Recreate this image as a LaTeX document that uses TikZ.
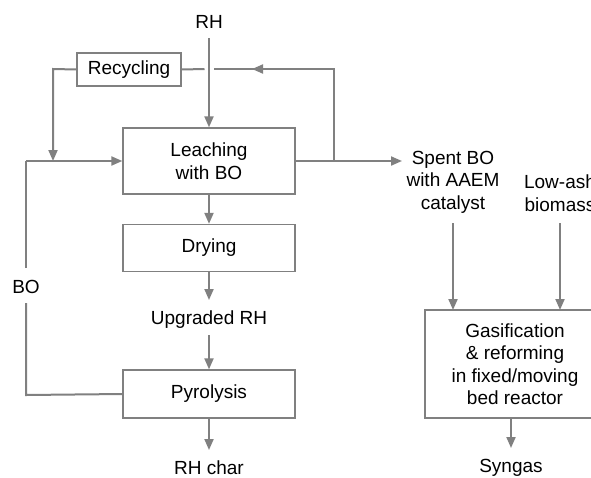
\documentclass[tikz,border=0pt]{standalone}
\usepackage{fontspec}
\setmainfont{Liberation Sans}
\usetikzlibrary{arrows.meta}
\definecolor{lc}{RGB}{128,128,128}
\begin{document}
\begin{tikzpicture}[x=1pt,y=-1pt,
  every node/.style={font=\fontsize{19}{22.5}\selectfont, text=black, align=center, inner sep=0pt},
  boxst/.style={draw=lc, line width=1.3pt, minimum width=#1},
  flow/.style={draw=lc, line width=2pt},
  arr/.style={flow, -{Triangle[length=11pt,width=9pt]}}]
\useasboundingbox (0,0) rectangle (591,477);
\clip (0,0) rectangle (591,477);
% nodes
\node (rh) at (209,22) {RH};
\node[boxst=104, minimum height=33] (rec) at (129,69.5) {Recycling};
\node[boxst=172, minimum height=66] (leach) at (209,161) {Leaching\\with BO};
\node[boxst=172, minimum height=47] (dry) at (209,248) {Drying};
\node (up) at (209,320) {Upgraded RH};
\node[boxst=172, minimum height=48] (pyr) at (209,394) {Pyrolysis};
\node (char) at (209,468) {RH char};
\node (bo) at (26,287) {BO};
\node (spent) at (453,182) {Spent BO\\with AAEM\\catalyst};
\node (low) at (560,193) {Low-ash\\biomass};
\node[boxst=180, minimum height=108] (gas) at (515,364) {Gasification\\\& reforming\\in fixed/moving\\bed reactor};
\node (syn) at (511,468) {Syngas};
% coordinates
\coordinate (rhs) at (209,38);
\coordinate (rb) at (334,161);
\coordinate (rt) at (334,69);
\coordinate (am) at (252,69);
\coordinate (jr) at (213.5,69);
\coordinate (jl) at (204.5,69);
\coordinate (ll) at (53,69);
\coordinate (lb) at (53,161);
\coordinate (bl) at (26,161);
\coordinate (bt) at (26,268);
\coordinate (bb) at (26,303);
\coordinate (bp) at (26,395);
\coordinate (sp) at (402,161);
\coordinate (s1) at (453,223);
\coordinate (s2) at (560,223);
% connectors
\draw[arr] (rhs) -- (leach.north);
\draw[arr] (leach.south) -- (dry.north);
\draw[arr] (dry.south) -- (209,300);
\draw[arr] (209,335) -- (pyr.north);
\draw[arr] (pyr.south) -- (209,450);
\draw[arr] (leach.east) -- (sp);
\draw[flow] (rb) -- (rt) -- (am);
\draw[arr] (rt) -- (am);
\draw[flow] (am) -- (jr);
\draw[flow] (jl) -- (rec.east);
\draw[arr] (rec.west) -- (ll) -- (lb);
\draw[arr] (bl) -- (leach.west);
\draw[flow] (bt) -- (bl);
\draw[flow] (bb) -- (bp) -- (pyr.west);
\draw[arr] (s1) -- (453,310);
\draw[arr] (s2) -- (560,310);
\draw[arr] (gas.south -| syn) -- (511,448);
\end{tikzpicture}
\end{document}
